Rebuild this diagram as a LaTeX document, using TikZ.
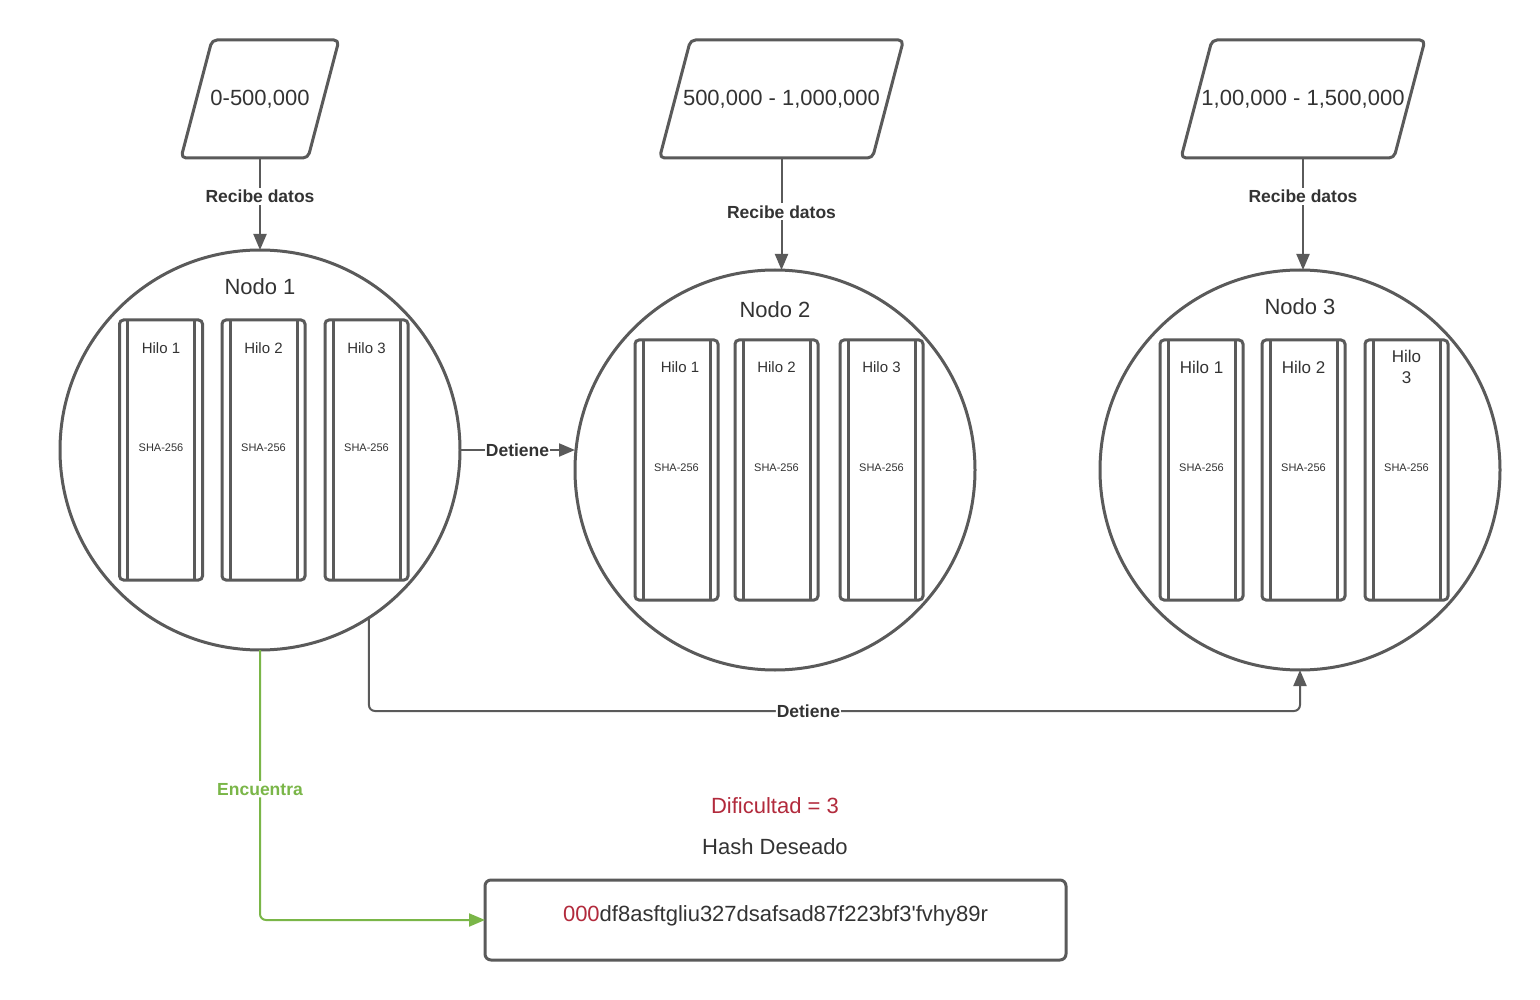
\documentclass[tikz,border=0pt]{standalone}
\usepackage{fontspec}
\setmainfont{Liberation Sans}
\newfontfamily\plainfont{Liberation Sans}
\usetikzlibrary{arrows.meta}
\definecolor{strokec}{HTML}{5A5A5A}
\definecolor{txt}{HTML}{333333}
\definecolor{lred}{HTML}{B22A3C}
\definecolor{lgreen}{HTML}{7AB648}
\tikzset{
  big/.style={font=\fontsize{22}{26}\selectfont, text=txt},
  para/.style={big, minimum height=118pt, inner sep=0pt, outer sep=0pt},
  parashape/.style={draw=strokec, line width=3pt, rounded corners=5pt, line join=round},
  nodecircle/.style={circle, draw=strokec, line width=3pt, minimum size=400pt, inner sep=0pt, outer sep=0pt},
  hilobox/.style={draw=strokec, line width=3pt, rounded corners=4pt, minimum width=83pt, minimum height=260pt, inner sep=0pt, outer sep=0pt},
  innerline/.style={draw=strokec, line width=3pt},
  hilolabel/.style={font=\fontsize{15}{18}\selectfont, text=txt},
  hilolabelb/.style={font=\fontsize{17}{21}\selectfont, text=txt, align=center},
  sha/.style={font=\fontsize{11}{13}\selectfont, text=txt},
  arr/.style={draw=strokec, line width=2pt, -{Triangle[length=16pt,width=13pt]}},
  lbl/.style={font=\bfseries\fontsize{17.5}{20}\selectfont, text=txt, fill=white, inner sep=2pt},
  hashbox/.style={draw=strokec, line width=3pt, rounded corners=6pt, minimum width=581pt, minimum height=80pt, inner sep=0pt, outer sep=0pt},
}
\begin{document}
\begin{tikzpicture}[x=1pt,y=-1pt]
\useasboundingbox[fill=white] (0,0) rectangle (1540,1000);

% range inputs
\node[para] (r1) at (260,99) {0-500,000};
\draw[parashape] ([xshift=-48pt]r1.north) -- ([xshift=79pt]r1.north) -- ([xshift=48pt]r1.south) -- ([xshift=-79pt]r1.south) -- cycle;
\node[para] (r2) at (781.5,99) {500,000 - 1,000,000};
\draw[parashape] ([xshift=-91pt]r2.north) -- ([xshift=122pt]r2.north) -- ([xshift=91pt]r2.south) -- ([xshift=-122pt]r2.south) -- cycle;
\node[para] (r3) at (1303,99) {1,00,000 - 1,500,000};
\draw[parashape] ([xshift=-91pt]r3.north) -- ([xshift=122pt]r3.north) -- ([xshift=91pt]r3.south) -- ([xshift=-122pt]r3.south) -- cycle;

% circles
\node[nodecircle] (c1) at (260,450) {};
\node[nodecircle] (c2) at (775,470) {};
\node[nodecircle] (c3) at (1300,470) {};
\node[big] (t1) at (260,287) {Nodo 1};
\node[big] (t2) at (775,310) {Nodo 2};
\node[big] (t3) at (1300,307) {Nodo 3};

% threads node 1
\foreach \i/\x in {1/161,2/263.5,3/366.5}{
  \node[hilobox] (a\i) at (\x,450) {};
  \draw[innerline] ([xshift=8pt]a\i.north west) -- ([xshift=8pt]a\i.south west);
  \draw[innerline] ([xshift=-8pt]a\i.north east) -- ([xshift=-8pt]a\i.south east);
  \node[hilolabel] (al\i) at (\x,348) {Hilo \i};
  \node[sha] (as\i) at (\x,448) {SHA-256};
}
% threads node 2
\foreach \i/\x in {1/676.5,2/776.5,3/881.5}{
  \node[hilobox] (b\i) at (\x,470) {};
  \draw[innerline] ([xshift=8pt]b\i.north west) -- ([xshift=8pt]b\i.south west);
  \draw[innerline] ([xshift=-8pt]b\i.north east) -- ([xshift=-8pt]b\i.south east);
  \node[sha] (bs\i) at (\x,468) {SHA-256};
}
\node[hilolabel] (bl1) at (680,367) {Hilo 1};
\node[hilolabel] (bl2) at (776.5,367) {Hilo 2};
\node[hilolabel] (bl3) at (881.5,367) {Hilo 3};
% threads node 3
\foreach \i/\x in {1/1201.5,2/1303.5,3/1406.5}{
  \node[hilobox] (d\i) at (\x,470) {};
  \draw[innerline] ([xshift=8pt]d\i.north west) -- ([xshift=8pt]d\i.south west);
  \draw[innerline] ([xshift=-8pt]d\i.north east) -- ([xshift=-8pt]d\i.south east);
  \node[sha] (ds\i) at (\x,468) {SHA-256};
}
\node[hilolabelb] (dl1) at (1201.5,367) {Hilo 1};
\node[hilolabelb] (dl2) at (1303.5,367) {Hilo 2};
\node[hilolabelb] (dl3) at (1406.5,367) {Hilo\\3};

% hash
\node[big, text=lred] (dif) at (775,806) {Dificultad = 3};
\node[big] (hd) at (775,847) {Hash Deseado};
\node[hashbox] (hash) at (775.5,920) {};
\node[big, font=\plainfont\fontsize{22}{26}\selectfont] (hashtxt) at (775.5,916) {{\color{lred}000}df8asftgliu327dsafsad87f223bf3'fvhy89r};

% connectors
\draw[arr] (r1.south) -- (r1.south |- c1.north) node[lbl, pos=0.42] {Recibe datos};
\draw[arr] (r2.south) -- (r2.south |- c2.north) node[lbl, pos=0.48] {Recibe datos};
\draw[arr] (r3.south) -- (r3.south |- c3.north) node[lbl, pos=0.34] {Recibe datos};
\draw[arr] (c1.east) -- (c2.west |- c1.east) node[lbl, midway, inner sep=1pt] {Detiene};
\coordinate (d2) at (1300,711);
\draw[arr, rounded corners=6pt] (c1.-57.3) |- (d2) node[lbl, pos=0.736, inner sep=1pt] {Detiene} -- (c3.south);
\draw[arr, draw=lgreen, rounded corners=6pt] (c1.south) |- (hash.west) node[lbl, pos=0.258, text=lgreen] {Encuentra};
\end{tikzpicture}
\end{document}
